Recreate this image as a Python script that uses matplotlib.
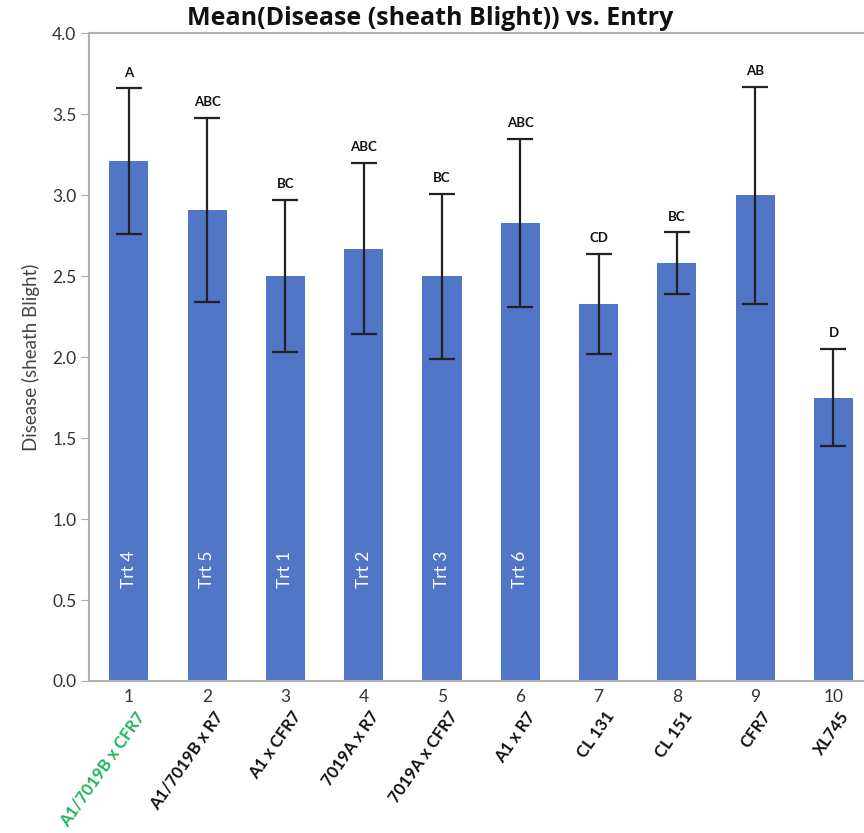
import numpy as np
import matplotlib.pyplot as plt

plt.rcParams['font.family'] = ['Lato', 'DejaVu Sans']

# Mean sheath blight score per entry, with error half-widths
entries = [1, 2, 3, 4, 5, 6, 7, 8, 9, 10]
names = ['A1/7019B x CFR7', 'A1/7019B x R7', 'A1 x CFR7', '7019A x R7',
         '7019A x CFR7', 'A1 x R7', 'CL 131', 'CL 151', 'CFR7', 'XL745']
means = [3.21, 2.91, 2.50, 2.67, 2.50, 2.83, 2.33, 2.58, 3.00, 1.75]
errs = [0.45, 0.57, 0.47, 0.53, 0.51, 0.52, 0.31, 0.19, 0.67, 0.30]
groups = ['A', 'ABC', 'BC', 'ABC', 'BC', 'ABC', 'CD', 'BC', 'AB', 'D']
trts = ['Trt 4', 'Trt 5', 'Trt 1', 'Trt 2', 'Trt 3', 'Trt 6']

fig = plt.figure(figsize=(8.64, 8.33), dpi=100)
ax = fig.add_axes([0.103, 0.1825, 0.897, 0.7775])

ax.bar(entries, means, width=0.5, color='#5176c7', zorder=2)
ax.errorbar(entries, means, yerr=errs, fmt='none', ecolor='#222222',
            elinewidth=1.6, capsize=9.5, capthick=1.6, zorder=3)

# significance letters above the whiskers
for x, m, e, g in zip(entries, means, errs, groups):
    ax.text(x, m + e + 0.06, g, ha='center', va='bottom', fontsize=9.5,
            fontweight='bold', color='#111111')

# treatment labels inside the first bars
for x, t in zip(entries, trts):
    ax.text(x, 0.69, t, rotation=90, ha='center', va='center', color='white',
            fontsize=12.5)

ax.set_xlim(0.49, 10.39)
ax.set_ylim(0, 4.0)
ax.set_yticks(np.arange(0, 4.01, 0.5))
ax.set_yticklabels([f'{v:.1f}' for v in np.arange(0, 4.01, 0.5)])
ax.set_xticks(entries)
ax.set_xticklabels([str(e) for e in entries])
ax.tick_params(axis='y', direction='out', length=6, color='#aaaaaa',
               labelsize=12.5, labelcolor='#333333', pad=3)
ax.tick_params(axis='x', length=0, labelsize=12.5, labelcolor='#333333', pad=6)

for side in ['left', 'bottom', 'top']:
    ax.spines[side].set_color('#b0b0b0')
    ax.spines[side].set_linewidth(1.5)
ax.spines['right'].set_visible(False)

ax.set_ylabel('Disease (sheath Blight)', fontsize=13.5, color='#444444', labelpad=9)
ax.set_title('Mean(Disease (sheath Blight)) vs. Entry', fontsize=18,
             fontweight='bold', color='#111111', pad=6, x=0.44,
             family=['Open Sans', 'DejaVu Sans'])

# rotated entry names under the tick numbers
for x, n in zip(entries, names):
    c = '#1db45a' if x == 1 else '#111111'
    ax.annotate(n, xy=(x, 0), xycoords=('data', 'axes fraction'),
                xytext=(4, -20), textcoords='offset points',
                rotation=55, ha='right', va='top', rotation_mode='anchor',
                fontsize=12, fontweight='bold', color=c)

plt.savefig('out.png', dpi=100)
